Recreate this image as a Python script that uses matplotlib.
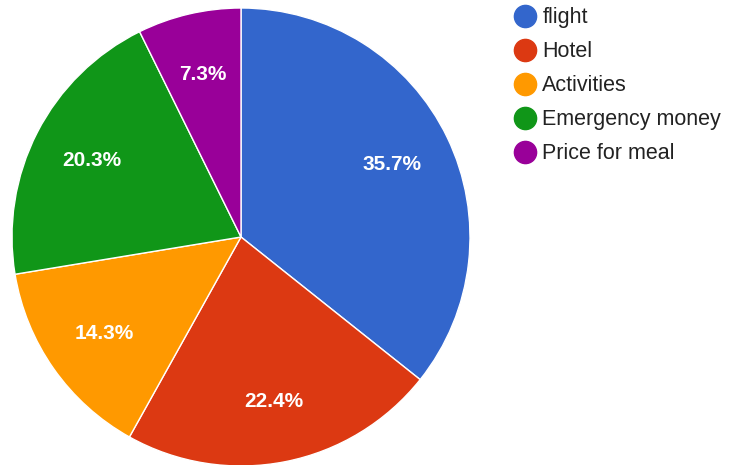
import matplotlib.pyplot as plt
from matplotlib.lines import Line2D

labels = ["flight", "Hotel", "Activities", "Emergency money", "Price for meal"]
shares = [35.7, 22.4, 14.3, 20.3, 7.3]
colors = ["#3366cc", "#dc3912", "#ff9900", "#109618", "#990099"]

plt.rcParams["font.family"] = ["Liberation Sans", "DejaVu Sans"]

W, H = 748, 465
fig = plt.figure(figsize=(W / 100, H / 100), dpi=100)

# pie area: centre (241, 237) px, radius 229 px
cx, cy, r = 241, 237, 229
ax = fig.add_axes([(cx - r) / W, (H - cy - r) / H, 2 * r / W, 2 * r / H])
wedges, texts, autotexts = ax.pie(
    shares,
    colors=colors,
    startangle=90,
    counterclock=False,
    autopct="%.1f%%",
    pctdistance=0.73,
    radius=1,
    wedgeprops=dict(edgecolor="white", linewidth=1),
    textprops=dict(color="white", fontsize=15, fontweight="bold"),
)
ax.set_xlim(-1, 1)
ax.set_ylim(-1, 1)
ax.set_aspect("equal")
ax.axis("off")

handles = [Line2D([0], [0], marker="o", linestyle="", markersize=16,
                  markerfacecolor=c, markeredgecolor=c) for c in colors]
fig.legend(handles, labels, loc="upper left",
           bbox_to_anchor=(494 / W, 1 + 12 / H), frameon=False,
           fontsize=15.5, labelspacing=0.6, handletextpad=0.25,
           handlelength=1.1, labelcolor="#222222")

fig.savefig("out.png", dpi=100)
